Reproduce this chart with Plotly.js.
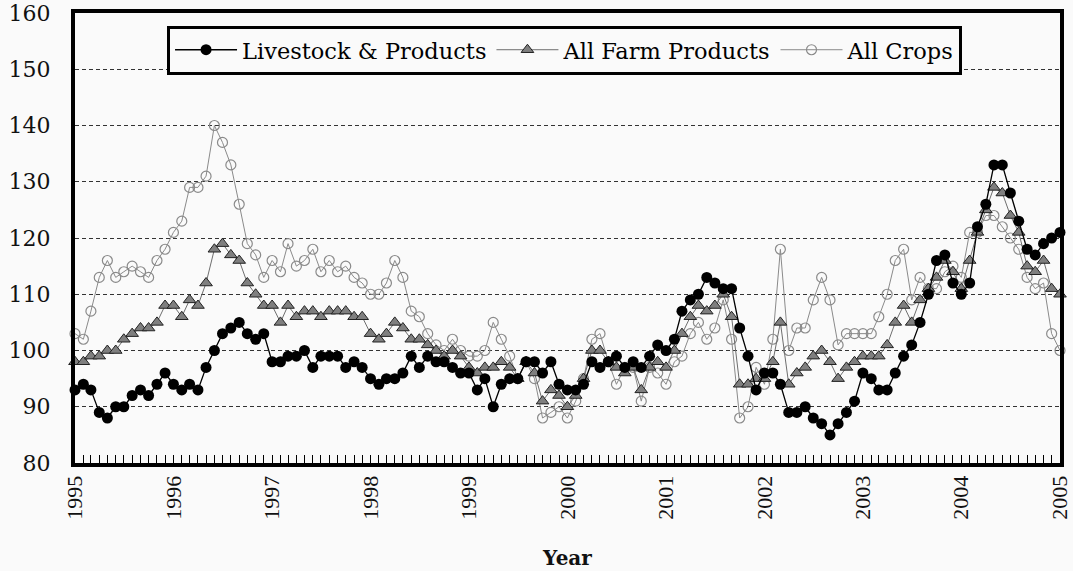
<!DOCTYPE html>
<html><head><meta charset="utf-8">
<script src="https://cdn.plot.ly/plotly-3.0.1.min.js"></script>
<style>html,body{margin:0;padding:0;background:#fafafa;}#chart{width:1073px;height:571px;}</style>
</head><body><div id="chart"></div>
<script>
// Monthly index values, Jan 1995 .. Jan 2005
const startYear = 1995;
const monthCount = 121;

const seriesNames = ['Livestock & Products', 'All Farm Products', 'All Crops'];

const livestock = [
  93, 94, 93, 89, 88, 90, 90, 92, 93, 92, 94, 96,
  94, 93, 94, 93, 97, 100, 103, 104, 105, 103, 102, 103,
  98, 98, 99, 99, 100, 97, 99, 99, 99, 97, 98, 97,
  95, 94, 95, 95, 96, 99, 97, 99, 98, 98, 97, 96,
  96, 93, 95, 90, 94, 95, 95, 98, 98, 96, 98, 94,
  93, 93, 94, 98, 97, 98, 99, 97, 98, 97, 99, 101,
  100, 102, 107, 109, 110, 113, 112, 111, 111, 104, 99, 93,
  96, 96, 94, 89, 89, 90, 88, 87, 85, 87, 89, 91,
  96, 95, 93, 93, 96, 99, 101, 105, 110, 116, 117, 112,
  110, 112, 122, 126, 133, 133, 128, 123, 118, 117, 119, 120,
  121
];

const farmProducts = [
  98, 98, 99, 99, 100, 100, 102, 103, 104, 104, 105, 108,
  108, 106, 109, 108, 112, 118, 119, 117, 116, 112, 110, 108,
  108, 105, 108, 106, 107, 107, 106, 107, 107, 107, 106, 106,
  103, 102, 103, 105, 104, 102, 102, 101, 100, 99, 100, 99,
  97, 96, 97, 97, 98, 97, 95, 98, 96, 91, 93, 92,
  90, 92, 95, 100, 100, 98, 97, 96, 97, 93, 97, 98,
  97, 100, 103, 106, 108, 107, 108, 110, 106, 94, 94, 95,
  95, 98, 105, 94, 96, 97, 99, 100, 98, 95, 97, 98,
  99, 99, 99, 101, 105, 108, 105, 109, 111, 113, 116, 114,
  111, 116, 121, 125, 129, 128, 124, 121, 115, 114, 116, 111,
  110
];

const crops = [
  103, 102, 107, 113, 116, 113, 114, 115, 114, 113, 116, 118,
  121, 123, 129, 129, 131, 140, 137, 133, 126, 119, 117, 113,
  116, 114, 119, 115, 116, 118, 114, 116, 114, 115, 113, 112,
  110, 110, 112, 116, 113, 107, 106, 103, 101, 100, 102, 100,
  99, 99, 100, 105, 102, 99, 95, 98, 95, 88, 89, 90,
  88, 91, 95, 102, 103, 98, 94, 97, 97, 91, 97, 96,
  94, 98, 99, 103, 105, 102, 104, 109, 102, 88, 90, 97,
  94, 102, 118, 100, 104, 104, 109, 113, 109, 101, 103, 103,
  103, 103, 106, 110, 116, 118, 109, 113, 111, 111, 114, 115,
  113, 121, 121, 124, 124, 122, 120, 118, 113, 111, 112, 103,
  100
];

const months = [];
for (let i = 0; i < monthCount; i++) {
  const y = startYear + Math.floor(i / 12);
  const m = (i % 12) + 1;
  months.push(y + '-' + String(m).padStart(2, '0') + '-01');
}

const wideSerif = 'DejaVu Serif';
const timesSerif = 'Liberation Serif';

const traces = [
  {
    x: months, y: crops, name: seriesNames[2], type: 'scatter', mode: 'lines+markers',
    line: {color: '#8a8a8a', width: 1},
    marker: {symbol: 'circle-open', size: 10, color: '#8a8a8a', line: {width: 1.2}},
    cliponaxis: false
  },
  {
    x: months, y: farmProducts, name: seriesNames[1], type: 'scatter', mode: 'lines+markers',
    line: {color: '#6e6e6e', width: 1},
    marker: {symbol: 'triangle-up', size: 11, color: '#7f7f7f', line: {color: '#222', width: 1}},
    cliponaxis: false
  },
  {
    x: months, y: livestock, name: seriesNames[0], type: 'scatter', mode: 'lines+markers',
    line: {color: '#000', width: 1.3},
    marker: {symbol: 'circle', size: 11, color: '#000'},
    cliponaxis: false
  }
];

const layout = {
  width: 1073, height: 571,
  margin: {l: 75, r: 13, t: 13, b: 108},
  paper_bgcolor: '#fafafa', plot_bgcolor: '#fafafa',
  font: {family: wideSerif, color: '#111'},
  showlegend: true,
  legend: {
    orientation: 'h', traceorder: 'reversed',
    x: 0.497, xanchor: 'center', y: 0.972, yanchor: 'top',
    bgcolor: '#fafafa', bordercolor: '#000', borderwidth: 3,
    font: {family: wideSerif, size: 22.5, color: '#000'},
    itemwidth: 62
  },
  xaxis: {
    type: 'date',
    range: ['1995-01-01', '2005-01-01'],
    tick0: '1995-01-01', dtick: 'M12', tickformat: '%Y',
    tickangle: -90,
    ticks: 'inside', ticklen: 8, tickcolor: '#000', tickwidth: 1,
    minor: {dtick: 'M1', ticks: 'inside', ticklen: 8, tickcolor: '#000', tickwidth: 1, showgrid: false},
    showgrid: false, zeroline: false,
    showline: true, linecolor: '#000', linewidth: 4, mirror: true,
    tickfont: {family: timesSerif, size: 22, color: '#111'},
    title: {text: '<b>Year</b>', font: {family: wideSerif, size: 20, color: '#111'}, standoff: 33}
  },
  yaxis: {
    range: [80, 160], dtick: 10,
    showgrid: true, gridcolor: '#333', gridwidth: 1, griddash: '4px,3px',
    zeroline: false, ticks: '',
    showline: true, linecolor: '#000', linewidth: 4, mirror: true,
    tickfont: {family: wideSerif, size: 22, color: '#111'},
    ticklabelstandoff: 16,
    ticklabeloverflow: 'allow'
  }
};

Plotly.newPlot('chart', traces, layout, {displayModeBar: false, staticPlot: true});
</script>
</body></html>
